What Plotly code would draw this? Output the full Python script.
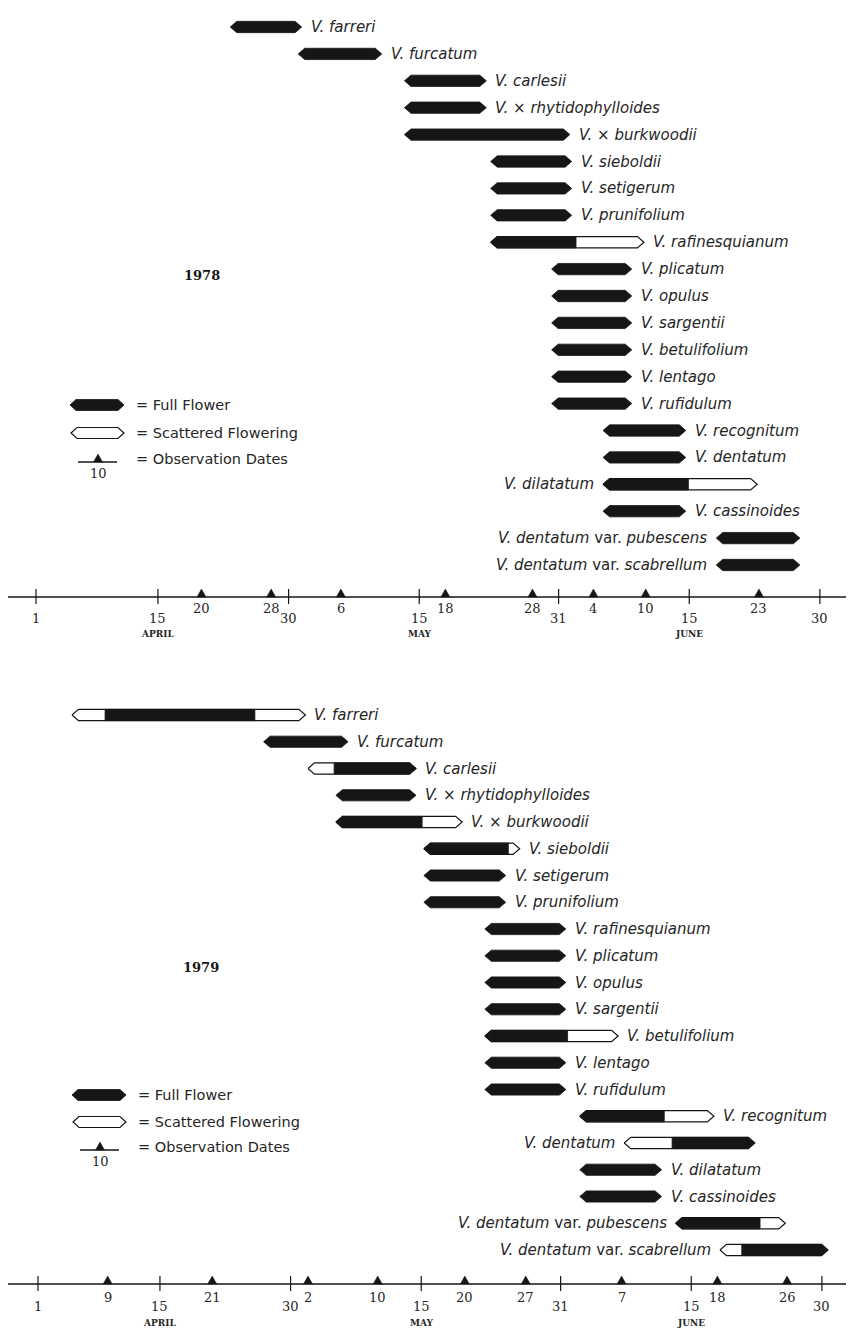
import plotly.graph_objects as go

W, H = 850, 1329

# ---------------- data ----------------
species = [
    "V. farreri", "V. furcatum", "V. carlesii", "V. × rhytidophylloides",
    "V. × burkwoodii", "V. sieboldii", "V. setigerum", "V. prunifolium",
    "V. rafinesquianum", "V. plicatum", "V. opulus", "V. sargentii",
    "V. betulifolium", "V. lentago", "V. rufidulum", "V. recognitum",
    "V. dentatum", "V. dilatatum", "V. cassinoides",
    "V. dentatum var. pubescens", "V. dentatum var. scabrellum",
]

# day numbers: 1 = April 1, 31 = May 1, 62 = June 1, 91 = June 30
start_1978 = [23.3, 31.1, 43.3, 43.3, 43.3, 53.2, 53.2, 53.2, 53.2, 60.2, 60.2,
              60.2, 60.2, 60.2, 60.2, 66.1, 66.1, 66.1, 66.1, 79.1, 79.1]
full_start_1978 = [23.3, 31.1, 43.3, 43.3, 43.3, 53.2, 53.2, 53.2, 53.2, 60.2, 60.2,
                   60.2, 60.2, 60.2, 60.2, 66.1, 66.1, 66.1, 66.1, 79.1, 79.1]
full_end_1978 = [31.5, 40.7, 52.7, 52.7, 62.3, 62.5, 62.5, 62.5, 63.0, 69.4, 69.4,
                 69.4, 69.4, 69.4, 69.4, 75.6, 75.6, 75.9, 75.6, 88.7, 88.7]
end_1978 = [31.5, 40.7, 52.7, 52.7, 62.3, 62.5, 62.5, 62.5, 70.8, 69.4, 69.4,
            69.4, 69.4, 69.4, 69.4, 75.6, 75.6, 83.8, 75.6, 88.7, 88.7]
label_left_1978 = [False] * 17 + [True, False, True, True]

start_1979 = [4.9, 26.9, 32.0, 35.2, 35.2, 45.3, 45.3, 45.3, 52.3, 52.3, 52.3,
              52.3, 52.3, 52.3, 52.3, 63.2, 68.3, 63.2, 63.2, 74.2, 79.3]
full_start_1979 = [8.7, 26.9, 35.0, 35.2, 35.2, 45.3, 45.3, 45.3, 52.3, 52.3, 52.3,
                   52.3, 52.3, 52.3, 52.3, 63.2, 73.8, 63.2, 63.2, 74.2, 81.8]
full_end_1979 = [25.9, 36.6, 44.4, 44.4, 45.1, 55.0, 54.7, 54.7, 61.6, 61.6, 61.6,
                 61.6, 61.8, 61.6, 61.6, 72.9, 83.3, 72.6, 72.6, 83.9, 91.7]
end_1979 = [31.7, 36.6, 44.4, 44.4, 49.7, 56.3, 54.7, 54.7, 61.6, 61.6, 61.6,
            61.6, 67.6, 61.6, 61.6, 78.6, 83.3, 72.6, 72.6, 86.8, 91.7]
label_left_1979 = [False] * 16 + [True, False, False, True, True]

major_ticks = [1, 15, 30, 45, 61, 76, 91]
major_labels = ["1", "15", "30", "15", "31", "15", "30"]
month_pos = [15, 45, 76]
month_labels = ["APRIL", "MAY", "JUNE"]

obs_1978 = [20, 28, 36, 48, 58, 65, 71, 84]
obs_labels_1978 = ["20", "28", "6", "18", "28", "4", "10", "23"]
obs_1979 = [9, 21, 32, 40, 50, 57, 68, 79, 87]
obs_labels_1979 = ["9", "21", "2", "10", "20", "27", "7", "18", "26"]

# ---------------- styling / geometry ----------------
INK = "#161616"
TXT = "#262626"
SANS = "DejaVu Sans"
SERIF = "DejaVu Serif"
LBL_SIZE = 15
TIP = 0.75     # days
HH = 0.21      # rows (half bar height)

panels = [
    dict(x0=36, kx=8.71, y0=27, ky=26.9, top=0, bot=650, axis=597,
         year="1978", year_xy=(202, 275), legend_y=(405, 433, 459),
         data=(start_1978, full_start_1978, full_end_1978, end_1978, label_left_1978),
         obs=(obs_1978, obs_labels_1978), obs_dy=11, maj_dy=21, mon_dy=37),
    dict(x0=38, kx=8.71, y0=715, ky=26.75, top=650, bot=H, axis=1284,
         year="1979", year_xy=(201, 967), legend_y=(1095, 1122, 1147),
         data=(start_1979, full_start_1979, full_end_1979, end_1979, label_left_1979),
         obs=(obs_1979, obs_labels_1979), obs_dy=13, maj_dy=22, mon_dy=39),
]

fig = go.Figure()
shapes = []
annotations = []


def hexa(s, e, r, ltip, rtip):
    xs, ys = [], []
    if ltip:
        xs += [s, s + TIP]; ys += [r, r - HH]
    else:
        xs += [s, s]; ys += [r + HH, r - HH]
    if rtip:
        xs += [e - TIP, e, e - TIP]; ys += [r - HH, r, r + HH]
    else:
        xs += [e, e]; ys += [r - HH, r + HH]
    if ltip:
        xs += [s + TIP, s]; ys += [r + HH, r]
    else:
        xs += [s]; ys += [r + HH]
    return xs, ys


def px2paper(px, py):
    return px / W, 1 - py / H


def paper_hex(xa, xb, yc, hh=5.5, tip=6):
    pts = [(xa, yc), (xa + tip, yc - hh), (xb - tip, yc - hh), (xb, yc),
           (xb - tip, yc + hh), (xa + tip, yc + hh)]
    path = ""
    for i, (px, py) in enumerate(pts):
        fx, fy = px2paper(px, py)
        path += ("M" if i == 0 else "L") + f"{fx:.5f},{fy:.5f} "
    return path + "Z"


for i, P in enumerate(panels):
    xa = "x" if i == 0 else "x2"
    ya = "y" if i == 0 else "y2"
    starts, fstarts, fends, ends, left = P["data"]
    wx, wy, bx, by = [], [], [], []
    for r, (s, fs, fe, e) in enumerate(zip(starts, fstarts, fends, ends)):
        if s < fs or e > fe:
            xs, ys = hexa(s, e, r, True, True)
            wx += xs + [None]; wy += ys + [None]
        xs, ys = hexa(fs, fe, r, fs == s, fe == e)
        bx += xs + [None]; by += ys + [None]
    fig.add_trace(go.Scatter(x=wx, y=wy, mode="lines", fill="toself",
                             fillcolor="white", line=dict(color=INK, width=1.2),
                             xaxis=xa, yaxis=ya, hoverinfo="skip", showlegend=False))
    fig.add_trace(go.Scatter(x=bx, y=by, mode="lines", fill="toself",
                             fillcolor=INK, line=dict(color=INK, width=0.8),
                             xaxis=xa, yaxis=ya, hoverinfo="skip", showlegend=False))
    for r, name in enumerate(species):
        parts = name.split(" var. ")
        if len(parts) == 2:
            txt = f"<i>{parts[0]}</i> var. <i>{parts[1]}</i>"
        else:
            txt = f"<i>{name}</i>"
        if left[r]:
            annotations.append(dict(x=starts[r], y=r, xref=xa, yref=ya, text=txt,
                                    showarrow=False, xanchor="right", yanchor="middle",
                                    xshift=-7, font=dict(family=SANS, size=LBL_SIZE, color=TXT)))
        else:
            annotations.append(dict(x=ends[r], y=r, xref=xa, yref=ya, text=txt,
                                    showarrow=False, xanchor="left", yanchor="middle",
                                    xshift=7, font=dict(family=SANS, size=LBL_SIZE, color=TXT)))

    # time axis
    arow = (P["axis"] - P["y0"]) / P["ky"]
    shapes.append(dict(type="line", xref="paper", yref=ya, x0=8 / W, x1=846 / W,
                       y0=arow, y1=arow, line=dict(color=INK, width=1.6)))
    for t, lab in zip(major_ticks, major_labels):
        shapes.append(dict(type="line", xref=xa, yref=ya, x0=t, x1=t,
                           ysizemode="pixel", yanchor=arow, y0=-7, y1=8,
                           line=dict(color=INK, width=1.2)))
        annotations.append(dict(x=t, y=arow, xref=xa, yref=ya, text=lab, showarrow=False,
                                xanchor="center", yanchor="middle",
                                yshift=-P["maj_dy"], font=dict(family=SERIF, size=13, color=TXT)))
    for t, lab in zip(month_pos, month_labels):
        annotations.append(dict(x=t, y=arow, xref=xa, yref=ya, text=f"<b>{lab}</b>",
                                showarrow=False, xanchor="center", yanchor="middle",
                                yshift=-P["mon_dy"],
                                font=dict(family=SERIF, size=9, color=TXT)))
    ob, obl = P["obs"]
    for t, lab in zip(ob, obl):
        shapes.append(dict(type="path", xref=xa, yref=ya, xsizemode="pixel",
                           ysizemode="pixel", xanchor=t, yanchor=arow,
                           path="M-4.5,0 L4.5,0 L0,8 Z", fillcolor=INK,
                           line=dict(color=INK, width=0.5)))
        annotations.append(dict(x=t, y=arow, xref=xa, yref=ya, text=lab, showarrow=False,
                                xanchor="center", yanchor="middle",
                                yshift=-P["obs_dy"], font=dict(family=SERIF, size=13, color=TXT)))

    # year label
    yx, yy = px2paper(*P["year_xy"])
    annotations.append(dict(x=yx, y=yy, xref="paper", yref="paper", text=f"<b>{P['year']}</b>",
                            showarrow=False, xanchor="center", yanchor="middle",
                            font=dict(family=SERIF, size=13, color=INK)))

    # legend
    ly1, ly2, ly3 = P["legend_y"]
    lx0 = 70 + 2 * i
    shapes.append(dict(type="path", xref="paper", yref="paper",
                       path=paper_hex(lx0, lx0 + 54, ly1), fillcolor=INK,
                       line=dict(color=INK, width=0.8)))
    shapes.append(dict(type="path", xref="paper", yref="paper",
                       path=paper_hex(lx0 + 1, lx0 + 54, ly2), fillcolor="white",
                       line=dict(color=INK, width=1.2)))
    ax0, ay0 = px2paper(lx0 + 8, ly3 + 3)
    ax1, _ = px2paper(lx0 + 47, ly3 + 3)
    shapes.append(dict(type="line", xref="paper", yref="paper", x0=ax0, x1=ax1,
                       y0=ay0, y1=ay0, line=dict(color=INK, width=1.4)))
    tx, ty = px2paper(lx0 + 28, ly3 + 3)
    shapes.append(dict(type="path", xref="paper", yref="paper", xsizemode="pixel",
                       ysizemode="pixel", xanchor=tx, yanchor=ty,
                       path="M-4.5,0 L4.5,0 L0,8 Z", fillcolor=INK,
                       line=dict(color=INK, width=0.5)))
    nx, ny = px2paper(lx0 + 28, ly3 + 14)
    annotations.append(dict(x=nx, y=ny, xref="paper", yref="paper", text="10", showarrow=False,
                            xanchor="center", yanchor="middle",
                            font=dict(family=SERIF, size=13, color=TXT)))
    for yy_, txt in zip((ly1, ly2, ly3), ("= Full Flower", "= Scattered Flowering",
                                          "= Observation Dates")):
        fx, fy = px2paper(lx0 + 64, yy_)
        annotations.append(dict(x=fx, y=fy, xref="paper", yref="paper", text=txt,
                                showarrow=False, xanchor="left", yanchor="middle",
                                font=dict(family=SANS, size=14.5, color=TXT)))


def xrange(P):
    return [1 - P["x0"] / P["kx"], 1 + (W - P["x0"]) / P["kx"]]


def yaxis_cfg(P):
    lo = (P["top"] - P["y0"]) / P["ky"]
    hi = (P["bot"] - P["y0"]) / P["ky"]
    return dict(range=[hi, lo], domain=[1 - P["bot"] / H, 1 - P["top"] / H],
                visible=False, fixedrange=True)


fig.update_layout(
    width=W, height=H,
    margin=dict(l=0, r=0, t=0, b=0),
    paper_bgcolor="white", plot_bgcolor="white",
    showlegend=False,
    xaxis=dict(range=xrange(panels[0]), visible=False, domain=[0, 1], anchor="y",
               fixedrange=True),
    yaxis=yaxis_cfg(panels[0]),
    xaxis2=dict(range=xrange(panels[1]), visible=False, domain=[0, 1], anchor="y2",
                fixedrange=True),
    yaxis2=yaxis_cfg(panels[1]),
    shapes=shapes,
    annotations=annotations,
)

fig.write_html("out.html",
               config={"displayModeBar": False},
               post_script="document.body.style.margin='0px';"
                           "document.body.style.padding='0px';"
                           "document.body.style.overflow='hidden';")
